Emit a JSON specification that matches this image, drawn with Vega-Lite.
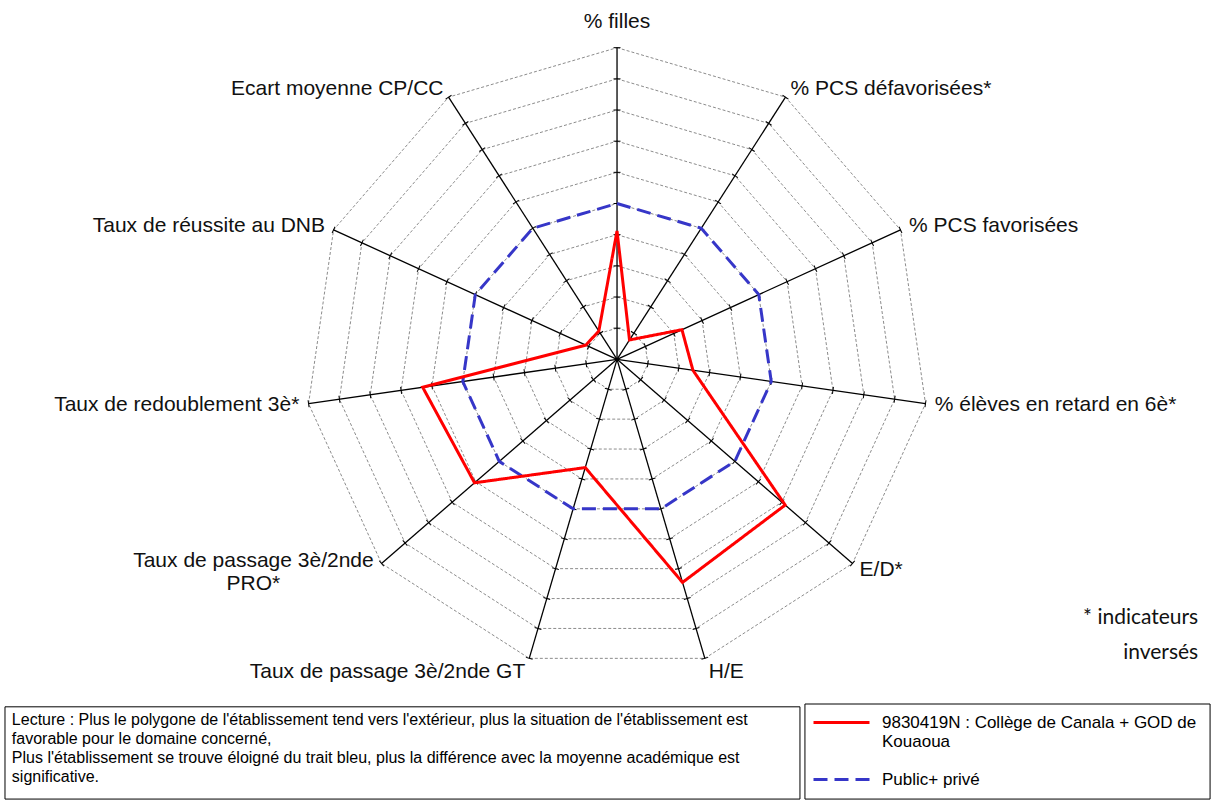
{
  "$schema": "https://vega.github.io/schema/vega-lite/v6.json",
  "width": 1211,
  "height": 800,
  "autosize": {"type": "fit", "contains": "padding"},
  "padding": 0,
  "background": "white",
  "config": {"view": {"stroke": null}},
  "datasets": {
    "axes": [
      {"k": 0, "label": "% filles", "rings": [1,2,3,4,5,6,7,8,9,10]},
      {"k": 1, "label": "% PCS défavorisées*", "rings": [1,2,3,4,5,6,7,8,9,10]},
      {"k": 2, "label": "% PCS favorisées", "rings": [1,2,3,4,5,6,7,8,9,10]},
      {"k": 3, "label": "% élèves en retard en 6è*", "rings": [1,2,3,4,5,6,7,8,9,10]},
      {"k": 4, "label": "E/D*", "rings": [1,2,3,4,5,6,7,8,9,10]},
      {"k": 5, "label": "H/E", "rings": [1,2,3,4,5,6,7,8,9,10]},
      {"k": 6, "label": "Taux de passage 3è/2nde GT", "rings": [1,2,3,4,5,6,7,8,9,10]},
      {"k": 7, "label": "Taux de passage 3è/2nde\nPRO*", "rings": [1,2,3,4,5,6,7,8,9,10]},
      {"k": 8, "label": "Taux de redoublement 3è*", "rings": [1,2,3,4,5,6,7,8,9,10]},
      {"k": 9, "label": "Taux de réussite au DNB", "rings": [1,2,3,4,5,6,7,8,9,10]},
      {"k": 10, "label": "Ecart moyenne CP/CC", "rings": [1,2,3,4,5,6,7,8,9,10]}
    ],
    "scores": [
      {"series": "Public+ privé", "k": 0, "value": 5},
      {"series": "Public+ privé", "k": 1, "value": 5},
      {"series": "Public+ privé", "k": 2, "value": 5},
      {"series": "Public+ privé", "k": 3, "value": 5},
      {"series": "Public+ privé", "k": 4, "value": 5},
      {"series": "Public+ privé", "k": 5, "value": 5},
      {"series": "Public+ privé", "k": 6, "value": 5},
      {"series": "Public+ privé", "k": 7, "value": 5},
      {"series": "Public+ privé", "k": 8, "value": 5},
      {"series": "Public+ privé", "k": 9, "value": 5},
      {"series": "Public+ privé", "k": 10, "value": 5},
      {"series": "9830419N : Collège de Canala + GOD de Kouaoua", "k": 0, "value": 4.12},
      {"series": "9830419N : Collège de Canala + GOD de Kouaoua", "k": 1, "value": 0.74},
      {"series": "9830419N : Collège de Canala + GOD de Kouaoua", "k": 2, "value": 2.29},
      {"series": "9830419N : Collège de Canala + GOD de Kouaoua", "k": 3, "value": 2.46},
      {"series": "9830419N : Collège de Canala + GOD de Kouaoua", "k": 4, "value": 7.14},
      {"series": "9830419N : Collège de Canala + GOD de Kouaoua", "k": 5, "value": 7.46},
      {"series": "9830419N : Collège de Canala + GOD de Kouaoua", "k": 6, "value": 3.62},
      {"series": "9830419N : Collège de Canala + GOD de Kouaoua", "k": 7, "value": 6.05},
      {"series": "9830419N : Collège de Canala + GOD de Kouaoua", "k": 8, "value": 6.30},
      {"series": "9830419N : Collège de Canala + GOD de Kouaoua", "k": 9, "value": 1.10},
      {"series": "9830419N : Collège de Canala + GOD de Kouaoua", "k": 10, "value": 1.08}
    ],
    "notes": [
      {"note": "Lecture : Plus le polygone de l'établissement tend vers l'extérieur, plus la situation de l'établissement est\nfavorable pour le domaine concerné,\nPlus l'établissement se trouve éloigné du trait bleu, plus la différence avec la moyenne académique est\nsignificative."}
    ],
    "remarks": [
      {"remark": "* indicateurs\ninversés"}
    ]
  },
  "layer": [
    {
      "data": {"name": "axes"},
      "transform": [
        {"flatten": ["rings"], "as": ["r"]},
        {"calculate": "datum.k * 2 * PI / 11", "as": "a"},
        {"calculate": "datum.r * sin(datum.a)", "as": "px"},
        {"calculate": "datum.r * cos(datum.a)", "as": "py"}
      ],
      "mark": {"type": "line", "interpolate": "linear-closed", "stroke": "#8c8c8c", "strokeWidth": 1, "strokeDash": [3, 2]},
      "encoding": {
        "x": {"field": "px", "type": "quantitative", "scale": {"domain": [-19.8, 19.06], "nice": false, "zero": false}, "axis": null},
        "y": {"field": "py", "type": "quantitative", "scale": {"domain": [-14.14, 11.53], "nice": false, "zero": false}, "axis": null},
        "detail": {"field": "r", "type": "nominal"},
        "order": {"field": "k", "type": "quantitative"}
      }
    },
    {
      "data": {"name": "axes"},
      "transform": [
        {"calculate": "datum.k * 2 * PI / 11", "as": "a"},
        {"calculate": "10 * sin(datum.a)", "as": "ex"},
        {"calculate": "10 * cos(datum.a)", "as": "ey"}
      ],
      "mark": {"type": "rule", "stroke": "#000000", "strokeWidth": 1.3},
      "encoding": {
        "x": {"field": "ex", "type": "quantitative"},
        "y": {"field": "ey", "type": "quantitative"},
        "x2": {"datum": 0},
        "y2": {"datum": 0}
      }
    },
    {
      "data": {"name": "axes"},
      "transform": [
        {"flatten": ["rings"], "as": ["r"]},
        {"calculate": "datum.k * 2 * PI / 11", "as": "a"},
        {"calculate": "datum.k * 360 / 11", "as": "deg"},
        {"calculate": "datum.r * sin(datum.a)", "as": "px"},
        {"calculate": "datum.r * cos(datum.a)", "as": "py"}
      ],
      "mark": {"type": "point", "shape": "stroke", "size": 49, "stroke": "#000000", "strokeWidth": 1, "filled": false, "opacity": 1},
      "encoding": {
        "x": {"field": "px", "type": "quantitative"},
        "y": {"field": "py", "type": "quantitative"},
        "angle": {"field": "deg", "type": "quantitative", "scale": null}
      }
    },
    {
      "data": {"name": "scores"},
      "transform": [
        {"calculate": "datum.k * 2 * PI / 11", "as": "a"},
        {"calculate": "datum.value * sin(datum.a)", "as": "px"},
        {"calculate": "datum.value * cos(datum.a)", "as": "py"}
      ],
      "mark": {"type": "line", "interpolate": "linear-closed", "strokeWidth": 3},
      "encoding": {
        "x": {"field": "px", "type": "quantitative"},
        "y": {"field": "py", "type": "quantitative"},
        "order": {"field": "k", "type": "quantitative"},
        "color": {
          "field": "series", "type": "nominal",
          "scale": {"domain": ["9830419N : Collège de Canala + GOD de Kouaoua", "Public+ privé"], "range": ["#ff0000", "#3636c8"]},
          "legend": {"title": null, "orient": "none", "legendX": 812, "legendY": 693, "symbolType": "stroke", "symbolSize": 3136, "symbolStrokeWidth": 3, "labelFont": "Liberation Sans Narrow, Liberation Sans", "labelFontSize": 17, "labelColor": "#000000", "labelOffset": 11, "rowPadding": -15, "labelLimit": 400, "padding": 0,
            "labelExpr": "datum.label == '9830419N : Collège de Canala + GOD de Kouaoua' ? ['9830419N : Collège de Canala + GOD de', 'Kouaoua'] : datum.label"}
        },
        "strokeDash": {
          "field": "series", "type": "nominal",
          "scale": {"domain": ["9830419N : Collège de Canala + GOD de Kouaoua", "Public+ privé"], "range": [[1, 0], [14, 7]]},
          "legend": {"title": null, "orient": "none", "legendX": 812, "legendY": 693, "symbolType": "stroke", "symbolSize": 3136, "symbolStrokeWidth": 3, "labelFont": "Liberation Sans Narrow, Liberation Sans", "labelFontSize": 17, "labelColor": "#000000", "labelOffset": 11, "rowPadding": -15, "labelLimit": 400, "padding": 0,
            "labelExpr": "datum.label == '9830419N : Collège de Canala + GOD de Kouaoua' ? ['9830419N : Collège de Canala + GOD de', 'Kouaoua'] : datum.label"}
        }
      }
    },
    {
      "data": {"name": "axes"},
      "transform": [
        {"filter": "datum.k >= 1 && datum.k <= 5"},
        {"calculate": "datum.k * 2 * PI / 11", "as": "a"},
        {"calculate": "datum.k == 5 ? 10.45 : 10.3", "as": "lr"},
        {"calculate": "datum.lr * sin(datum.a)", "as": "lx"},
        {"calculate": "datum.lr * cos(datum.a)", "as": "ly"}
      ],
      "mark": {"type": "text", "align": "left", "baseline": "middle", "font": "Liberation Sans", "fontSize": 21, "color": "#111111"},
      "encoding": {
        "x": {"field": "lx", "type": "quantitative"},
        "y": {"field": "ly", "type": "quantitative"},
        "text": {"field": "label", "type": "nominal"}
      }
    },
    {
      "data": {"name": "axes"},
      "transform": [
        {"filter": "datum.k >= 6 && datum.k != 7"},
        {"calculate": "datum.k * 2 * PI / 11", "as": "a"},
        {"calculate": "datum.k == 6 ? 10.45 : 10.3", "as": "lr"},
        {"calculate": "datum.lr * sin(datum.a)", "as": "lx"},
        {"calculate": "datum.lr * cos(datum.a)", "as": "ly"}
      ],
      "mark": {"type": "text", "align": "right", "baseline": "middle", "font": "Liberation Sans", "fontSize": 21, "color": "#111111"},
      "encoding": {
        "x": {"field": "lx", "type": "quantitative"},
        "y": {"field": "ly", "type": "quantitative"},
        "text": {"field": "label", "type": "nominal"}
      }
    },
    {
      "data": {"name": "axes"},
      "transform": [
        {"filter": "datum.k == 7"},
        {"calculate": "datum.k * 2 * PI / 11", "as": "a"},
        {"calculate": "10.3 * sin(datum.a)", "as": "lx"},
        {"calculate": "10.3 * cos(datum.a)", "as": "ly"}
      ],
      "mark": {"type": "text", "align": "center", "baseline": "middle", "dx": -121, "dy": -9, "lineBreak": "\n", "lineHeight": 23, "font": "Liberation Sans", "fontSize": 21, "color": "#111111"},
      "encoding": {
        "x": {"field": "lx", "type": "quantitative"},
        "y": {"field": "ly", "type": "quantitative"},
        "text": {"field": "label", "type": "nominal"}
      }
    },
    {
      "data": {"name": "axes"},
      "transform": [
        {"filter": "datum.k == 0"},
        {"calculate": "10.3 * sin(0)", "as": "lx"},
        {"calculate": "10.3 * cos(0)", "as": "ly"}
      ],
      "mark": {"type": "text", "align": "center", "baseline": "middle", "dy": -16, "font": "Liberation Sans", "fontSize": 21, "color": "#111111"},
      "encoding": {
        "x": {"field": "lx", "type": "quantitative"},
        "y": {"field": "ly", "type": "quantitative"},
        "text": {"field": "label", "type": "nominal"}
      }
    },
    {
      "data": {"name": "notes"},
      "mark": {"type": "rect", "fill": null, "fillOpacity": 0, "stroke": "#000000", "strokeWidth": 1},
      "encoding": {
        "x": {"datum": -19.64, "type": "quantitative"},
        "x2": {"datum": 5.87},
        "y": {"datum": -11.15, "type": "quantitative"},
        "y2": {"datum": -14.11}
      }
    },
    {
      "data": {"name": "remarks"},
      "mark": {"type": "rect", "fill": null, "fillOpacity": 0, "stroke": "#000000", "strokeWidth": 1},
      "encoding": {
        "x": {"datum": 6.03, "type": "quantitative"},
        "x2": {"datum": 19.03},
        "y": {"datum": -11.06, "type": "quantitative"},
        "y2": {"datum": -14.11}
      }
    },
    {
      "data": {"name": "notes"},
      "mark": {"type": "text", "align": "left", "baseline": "top", "lineBreak": "\n", "lineHeight": 19, "font": "Liberation Sans Narrow, Liberation Sans", "fontSize": 16, "color": "#000000"},
      "encoding": {
        "x": {"datum": -19.42, "type": "quantitative"},
        "y": {"datum": -11.32, "type": "quantitative"},
        "text": {"field": "note", "type": "nominal"}
      }
    },
    {
      "data": {"name": "remarks"},
      "mark": {"type": "text", "align": "right", "baseline": "top", "lineBreak": "\n", "lineHeight": 35, "font": "Lato", "fontSize": 21, "color": "#111111"},
      "encoding": {
        "x": {"datum": 18.65, "type": "quantitative"},
        "y": {"datum": -7.95, "type": "quantitative"},
        "text": {"field": "remark", "type": "nominal"}
      }
    }
  ]
}
